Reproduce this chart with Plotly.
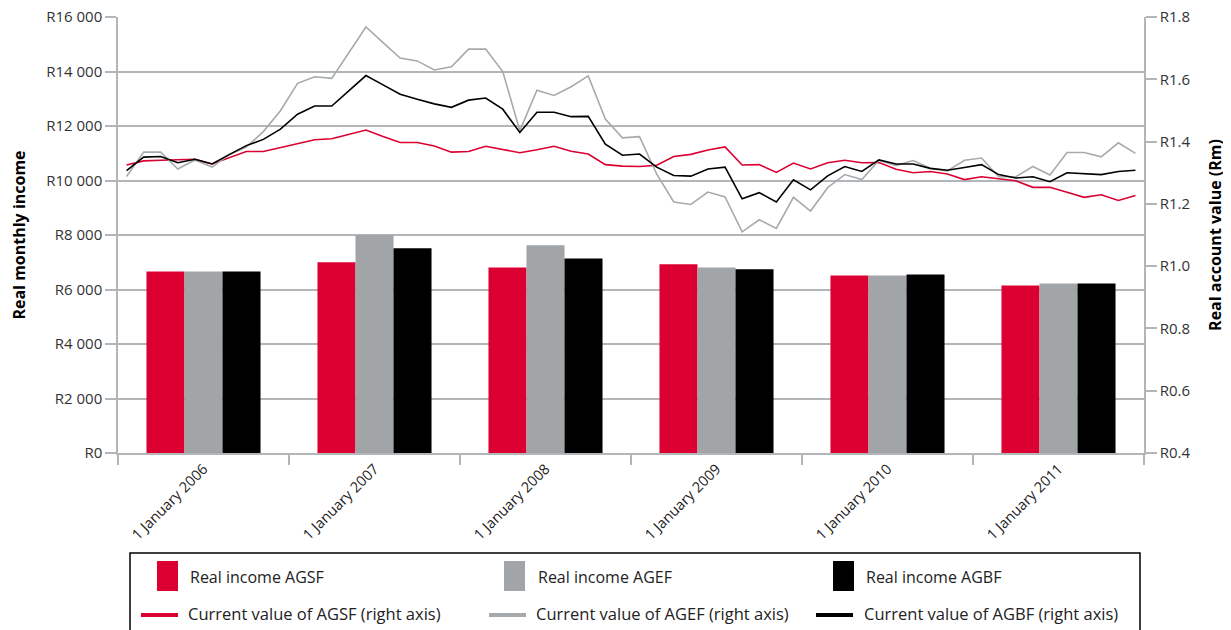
import plotly.graph_objects as go

# yearly bars (left axis, rand per month)
years = ["1 January 2006", "1 January 2007", "1 January 2008",
         "1 January 2009", "1 January 2010", "1 January 2011"]
income_agsf = [6660, 7000, 6810, 6930, 6515, 6150]
income_agef = [6660, 8000, 7620, 6810, 6515, 6220]
income_agbf = [6660, 7510, 7140, 6740, 6550, 6220]

# account values (right axis, R million), one point per period
value_agsf = [1.325, 1.338, 1.340, 1.341, 1.343, 1.328, 1.348, 1.368, 1.368, 1.381,
              1.392, 1.406, 1.409, 1.423, 1.437, 1.416, 1.397, 1.397, 1.386, 1.366,
              1.368, 1.385, 1.374, 1.364, 1.374, 1.385, 1.369, 1.360, 1.326, 1.321,
              1.320, 1.324, 1.352, 1.359, 1.373, 1.383, 1.325, 1.326, 1.301, 1.331,
              1.312, 1.332, 1.340, 1.332, 1.333, 1.311, 1.300, 1.304, 1.296, 1.278,
              1.287, 1.280, 1.274, 1.253, 1.253, 1.237, 1.221, 1.229, 1.211, 1.227]
value_agef = [1.288, 1.366, 1.366, 1.312, 1.341, 1.318, 1.358, 1.382, 1.432, 1.499,
              1.587, 1.608, 1.603, 1.686, 1.768, 1.718, 1.668, 1.659, 1.630, 1.640,
              1.697, 1.697, 1.625, 1.435, 1.565, 1.548, 1.576, 1.611, 1.472, 1.412,
              1.416, 1.296, 1.206, 1.198, 1.238, 1.222, 1.110, 1.149, 1.121, 1.221,
              1.177, 1.252, 1.294, 1.278, 1.340, 1.323, 1.339, 1.314, 1.306, 1.340,
              1.347, 1.287, 1.287, 1.320, 1.293, 1.365, 1.365, 1.351, 1.396, 1.362]
value_agbf = [1.307, 1.350, 1.352, 1.332, 1.343, 1.328, 1.358, 1.387, 1.407, 1.440,
              1.488, 1.514, 1.514, 1.563, 1.612, 1.582, 1.552, 1.536, 1.521, 1.510,
              1.533, 1.540, 1.504, 1.429, 1.494, 1.494, 1.480, 1.481, 1.392, 1.356,
              1.360, 1.318, 1.291, 1.289, 1.312, 1.318, 1.216, 1.236, 1.206, 1.277,
              1.245, 1.290, 1.320, 1.304, 1.341, 1.328, 1.328, 1.314, 1.308, 1.317,
              1.326, 1.294, 1.283, 1.287, 1.271, 1.300, 1.297, 1.294, 1.304, 1.308]
periods = list(range(len(value_agsf)))

left_ticks = [0, 2000, 4000, 6000, 8000, 10000, 12000, 14000, 16000]
left_labels = ["R0", "R2 000", "R4 000", "R6 000", "R8 000",
               "R10 000", "R12 000", "R14 000", "R16 000"]
right_ticks = [0.4, 0.6, 0.8, 1.0, 1.2, 1.4, 1.6, 1.8]
right_labels = ["R0.4", "R0.6", "R0.8", "R1.0", "R1.2", "R1.4", "R1.6", "R1.8"]

bar_names = ["Real income AGSF", "Real income AGEF", "Real income AGBF"]
line_names = ["Current value of AGSF (right axis)",
              "Current value of AGEF (right axis)",
              "Current value of AGBF (right axis)"]

RED = "#dc0032"
GREY_BAR = "#a1a5a8"
GREY_LINE = "#a7aaad"
BLACK = "#000000"
AXIS = "#b3b6b9"
FONT = "Open Sans"

# the page body adds an 8px offset, so the figure is sized to fill the rest
OFF = 8
W, H = 1231 - OFF, 630 - OFF
PLOT_L, PLOT_R, PLOT_T, PLOT_B = 118, 1144, 17, 453   # page pixels
L, T = PLOT_L - OFF, PLOT_T - OFF
R, B = W - (PLOT_R - OFF), H - (PLOT_B - OFF)
PW, PH = PLOT_R - PLOT_L, PLOT_B - PLOT_T


def px(x):
    return (x - PLOT_L) / PW


def py(y):
    return (PLOT_B - y) / PH


fig = go.Figure()

for name, vals, color in zip(bar_names,
                             [income_agsf, income_agef, income_agbf],
                             [RED, GREY_BAR, BLACK]):
    fig.add_trace(go.Bar(x=years, y=vals, name=name, marker_color=color,
                         marker_line_width=0))

for name, vals, color in zip(line_names,
                             [value_agsf, value_agef, value_agbf],
                             [RED, GREY_LINE, BLACK]):
    fig.add_trace(go.Scatter(x=periods, y=vals, name=name, mode="lines",
                             line=dict(color=color, width=1.6),
                             xaxis="x2", yaxis="y2"))

fig.update_layout(
    width=W, height=H,
    margin=dict(l=L, r=R, t=T, b=B, autoexpand=False),
    paper_bgcolor="white", plot_bgcolor="white",
    showlegend=False,
    barmode="group", bargap=0.333, bargroupgap=0,
    font=dict(family=FONT, color="#333333"),
    xaxis=dict(
        type="category", tickson="boundaries", ticks="outside", ticklen=10,
        tickcolor=AXIS, tickwidth=1.5, showline=True, linecolor=AXIS,
        linewidth=1.5, showgrid=False, tickangle=-45, automargin=False,
        tickfont=dict(size=14.5, color="#222222"),
    ),
    xaxis2=dict(overlaying="x", visible=False,
                range=[-0.5, len(periods) - 0.5]),
    yaxis=dict(
        range=[0, 16000], tickvals=left_ticks, ticktext=left_labels,
        ticks="outside", ticklen=11, tickcolor=AXIS, tickwidth=1.5,
        showline=True, linecolor=AXIS, linewidth=1.5,
        showgrid=True, gridcolor=AXIS, gridwidth=1.5, zeroline=False,
        ticklabeloverflow="allow", automargin=False,
        tickfont=dict(size=15, color="#333333"),
        title=dict(text="<b>Real monthly income</b>", standoff=20,
                   font=dict(size=16, color="#000000")),
    ),
    yaxis2=dict(
        overlaying="y", side="right", anchor="x",
        range=[0.4, 1.8], tickvals=right_ticks, ticktext=right_labels,
        ticks="outside", ticklen=11, tickcolor=AXIS, tickwidth=1.5,
        showline=True, linecolor=AXIS, linewidth=1.5,
        showgrid=False, zeroline=False,
        ticklabeloverflow="allow", automargin=False,
        tickfont=dict(size=15, color="#333333"),
        title=dict(text="<b>Real account value (Rm)</b>", standoff=20,
                   font=dict(size=16, color="#000000")),
    ),
)

# legend box, drawn by hand (tall bar swatches, thick line swatches)
fig.add_shape(type="rect", xref="paper", yref="paper",
              x0=px(130), x1=px(1140), y0=py(553), y1=py(660),
              line=dict(color="#000000", width=1.5), fillcolor="rgba(0,0,0,0)")

cols = [(157, 141, 188), (504, 489, 536), (833, 816, 864)]
for (bx, lx, tx), bname, lname, bcol, lcol in zip(
        cols, bar_names, line_names,
        [RED, GREY_BAR, BLACK], [RED, GREY_LINE, BLACK]):
    fig.add_shape(type="rect", xref="paper", yref="paper",
                  x0=px(bx), x1=px(bx + 21), y0=py(561), y1=py(591),
                  line_width=0, fillcolor=bcol)
    fig.add_shape(type="line", xref="paper", yref="paper",
                  x0=px(lx), x1=px(lx + 37), y0=py(615), y1=py(615),
                  line=dict(color=lcol, width=4))
    fig.add_annotation(text=bname, xref="paper", yref="paper",
                       x=px(tx), y=py(577), xanchor="left", yanchor="middle",
                       showarrow=False,
                       font=dict(size=16, color="#222222", family=FONT))
    fig.add_annotation(text=lname, xref="paper", yref="paper",
                       x=px(tx - 2), y=py(613), xanchor="left", yanchor="middle",
                       showarrow=False,
                       font=dict(size=16.5, color="#222222", family=FONT))

fig.write_html("out.html")
